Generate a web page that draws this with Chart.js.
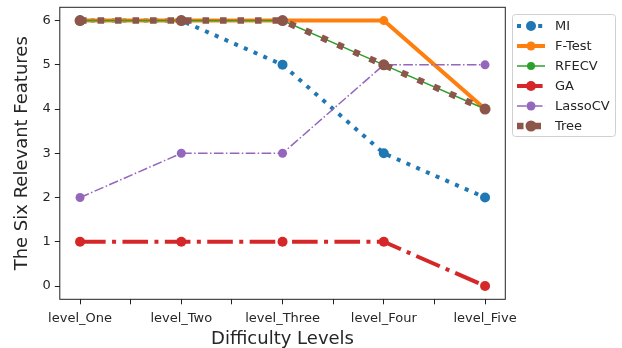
<!DOCTYPE html>
<html>
<head>
<meta charset="utf-8">
<script src="https://cdn.jsdelivr.net/npm/chart.js@4/dist/chart.umd.min.js"></script>
<style>
  body { margin: 0; background: #fff; }
  #grafico { display: block; }
</style>
</head>
<body>
<canvas id="grafico" width="622" height="348"></canvas>
<script>
const levels = ["level_One", "level_Two", "level_Three", "level_Four", "level_Five"];
const mi = [6, 6, 5, 3, 2];
const fTest = [6, 6, 6, 6, 4];
const rfecv = [6, 6, 6, 5, 4];
const ga = [1, 1, 1, 1, 0];
const lassoCV = [2, 3, 3, 5, 5];
const tree = [6, 6, 6, 5, 4];
const xTicks = [0, 0.5, 1, 1.5, 2, 2.5, 3, 3.5, 4];
const yTicks = [0, 1, 2, 3, 4, 5, 6];

const textColor = "#262626";
const font = "'DejaVu Sans', sans-serif";

function toPoints(values) {
  return values.map((v, i) => ({ x: i, y: v }));
}

function serie(label, values, color, width, dash, radius, cap) {
  return {
    label: label,
    data: toPoints(values),
    borderColor: color,
    backgroundColor: color,
    pointBackgroundColor: color,
    pointBorderColor: color,
    borderWidth: width,
    borderDash: dash,
    borderCapStyle: cap || "butt",
    pointRadius: radius,
    pointBorderWidth: 0,
    tension: 0,
    fill: false,
  };
}

const datasets = [
  serie("MI", mi, "#1f77b4", 4, [4, 6.6], 5),
  serie("F-Test", fTest, "#ff7f0e", 4, [], 4.5),
  serie("RFECV", rfecv, "#2ca02c", 1.5, [], 4),
  serie("GA", ga, "#d62728", 4, [25.6, 6.4, 4, 6.4], 5),
  serie("LassoCV", lassoCV, "#9467bd", 1.5, [9.6, 2.4, 1.5, 2.4], 4.5),
  serie("Tree", tree, "#8c564b", 6.5, [6.5, 11], 5.5),
];
// later series sit on top, like matplotlib
datasets.forEach((d, i) => (d.order = datasets.length - i));

const frame = {
  id: "frame",
  afterDatasetsDraw(chart) {
    const { ctx, chartArea: a } = chart;
    ctx.save();
    ctx.strokeStyle = "#222";
    ctx.lineWidth = 1;
    ctx.strokeRect(a.left, a.top, a.right - a.left, a.bottom - a.top);
    ctx.restore();
  },
};

const legendBox = {
  id: "legendBox",
  afterDraw(chart) {
    const ctx = chart.ctx;
    const x = 512.5, y = 14, w = 103, h = 122;
    ctx.save();
    ctx.fillStyle = "#fff";
    ctx.strokeStyle = "#d0d0d0";
    ctx.lineWidth = 1;
    ctx.beginPath();
    ctx.roundRect(x, y + 0.5, w, h, 3);
    ctx.fill();
    ctx.stroke();

    datasets.forEach((d, i) => {
      const cy = 26 + i * 20;
      ctx.strokeStyle = d.borderColor;
      ctx.lineWidth = d.borderWidth;
      ctx.lineCap = d.borderCapStyle;
      ctx.setLineDash(d.borderDash);
      ctx.beginPath();
      ctx.moveTo(517, cy);
      ctx.lineTo(545, cy);
      ctx.stroke();
      ctx.setLineDash([]);
      ctx.fillStyle = d.borderColor;
      ctx.beginPath();
      ctx.arc(531, cy, d.pointRadius, 0, Math.PI * 2);
      ctx.fill();
      ctx.fillStyle = textColor;
      ctx.font = "13px " + font;
      ctx.textAlign = "left";
      ctx.textBaseline = "middle";
      ctx.fillText(d.label, 555, cy + 1);
    });
    ctx.restore();
  },
};

new Chart(document.getElementById("grafico"), {
  type: "line",
  data: { datasets: datasets },
  plugins: [frame, legendBox],
  options: {
    responsive: false,
    animation: false,
    devicePixelRatio: 1,
    layout: { padding: { left: 0, top: 7.3, right: 116.7, bottom: 0 } },
    plugins: {
      legend: { display: false },
      tooltip: { enabled: false },
    },
    scales: {
      x: {
        type: "linear",
        min: -0.2,
        max: 4.2,
        afterBuildTicks: (scale) => {
          scale.ticks = xTicks.map((v) => ({ value: v }));
        },
        afterFit: (scale) => {
          scale.height = 48.7;
          scale.paddingLeft = 0;
          scale.paddingRight = 0;
        },
        grid: { drawOnChartArea: false, drawTicks: true, tickLength: 5, color: "#222" },
        border: { display: false },
        ticks: {
          autoSkip: false,
          maxRotation: 0,
          padding: 7,
          color: textColor,
          font: { family: font, size: 13 },
          callback: (v) => (Number.isInteger(v) ? levels[v] : ""),
        },
        title: {
          display: true,
          text: "Difficulty Levels",
          color: textColor,
          font: { family: font, size: 18, lineHeight: 1.0 },
          padding: { top: 0, bottom: 0 },
        },
      },
      y: {
        min: -0.3,
        max: 6.3,
        afterBuildTicks: (scale) => {
          scale.ticks = yTicks.map((v) => ({ value: v }));
        },
        afterFit: (scale) => {
          scale.width = 59.8;
          scale.paddingTop = 0;
          scale.paddingBottom = 0;
        },
        grid: { drawOnChartArea: false, drawTicks: true, tickLength: 5, color: "#222" },
        border: { display: false },
        ticks: {
          padding: 4,
          color: textColor,
          font: { family: font, size: 13 },
        },
        title: {
          display: true,
          text: "The Six Relevant Features",
          color: textColor,
          font: { family: font, size: 18, lineHeight: 1.2 },
          padding: { top: 12, bottom: 0 },
        },
      },
    },
  },
});
</script>
</body>
</html>
